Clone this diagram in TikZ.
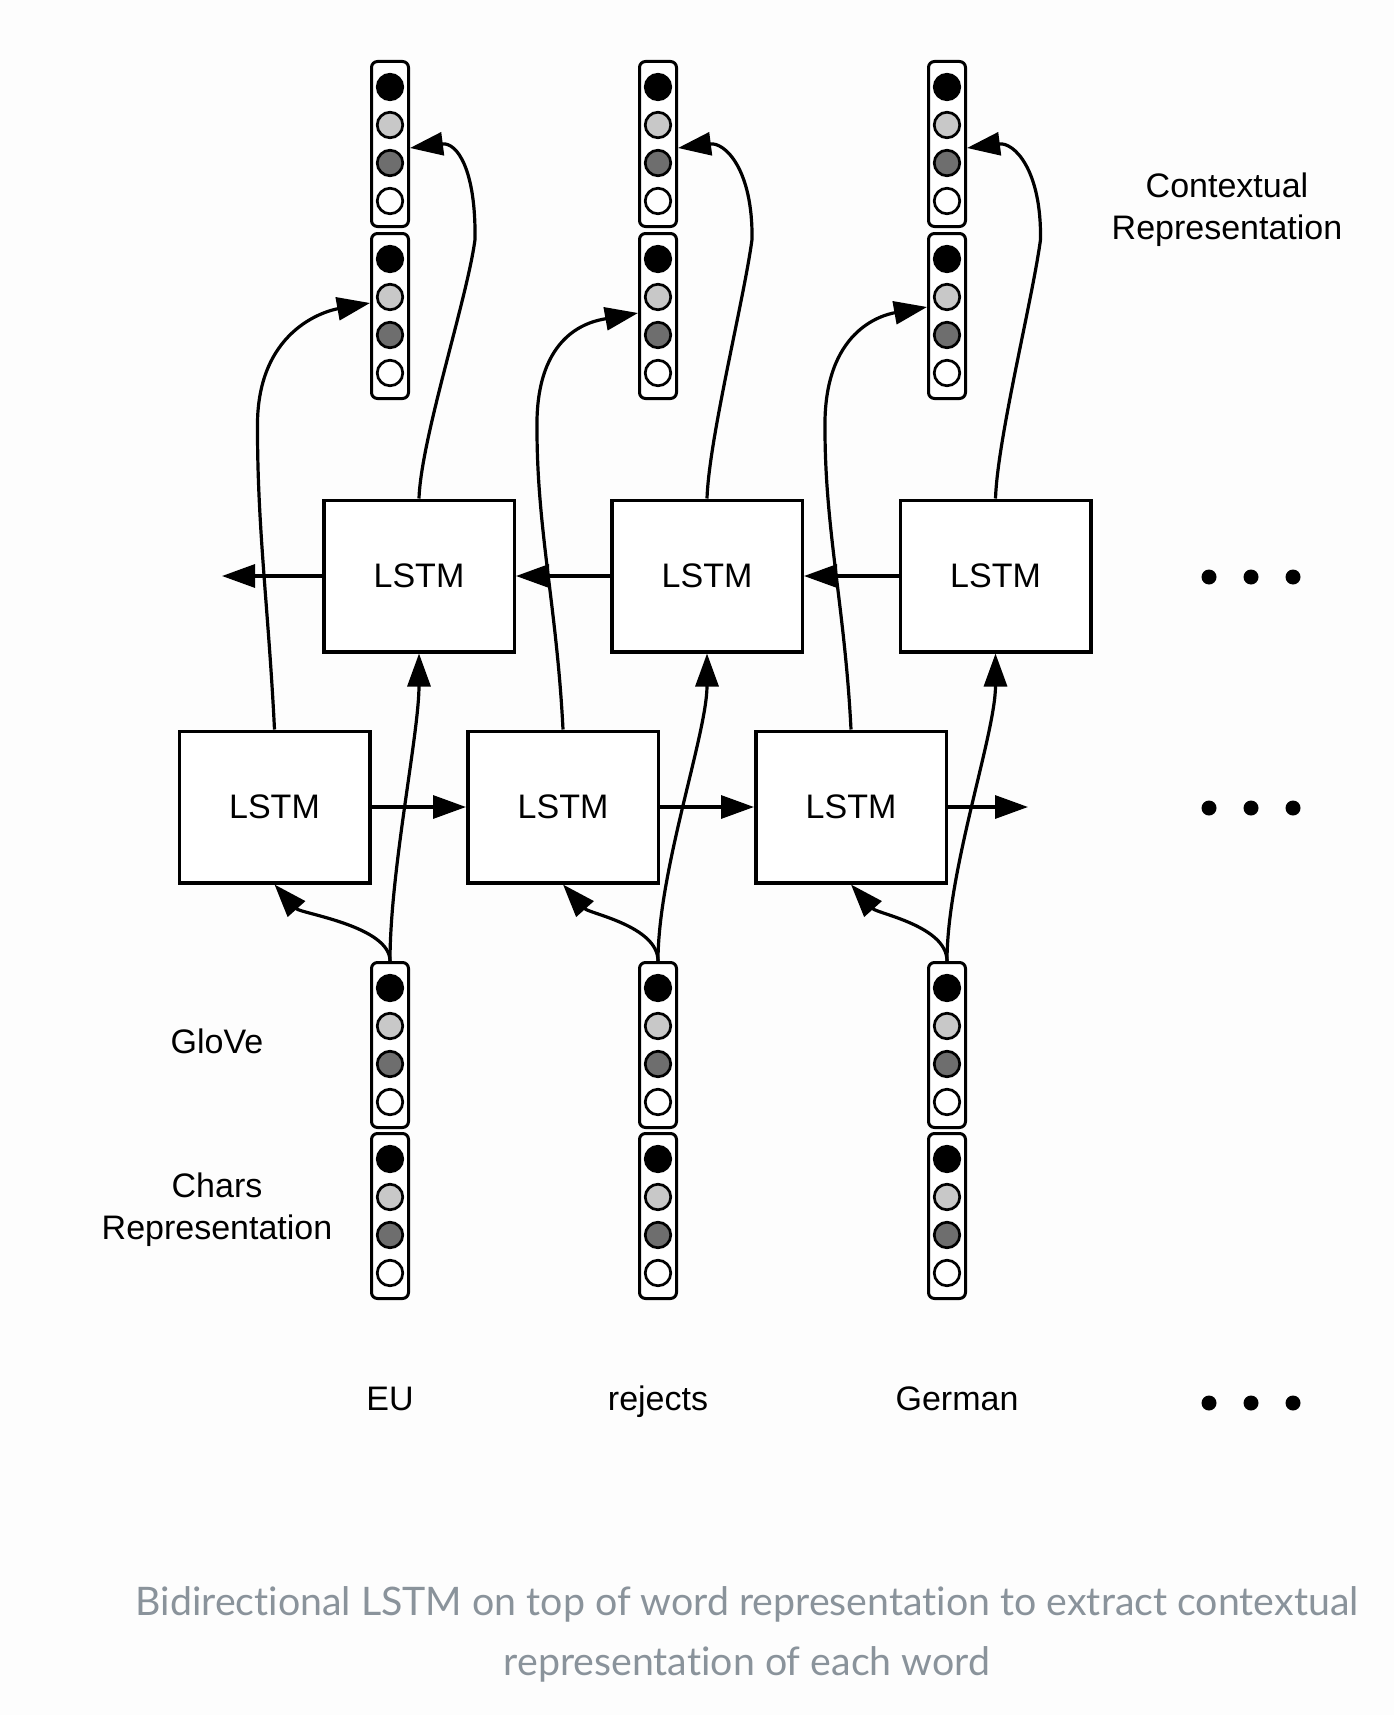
\documentclass[tikz,border=0pt]{standalone}
\usepackage{fontspec}
\setmainfont{Liberation Sans}
\newfontfamily\capfont{Lato}[Ligatures={NoCommon}]
\usetikzlibrary{arrows.meta,calc}
\definecolor{lgray}{HTML}{C8C8C8}
\definecolor{dgray}{HTML}{6E6E6E}
\definecolor{capgray}{HTML}{8A939B}
\definecolor{bg}{HTML}{FDFDFD}
\begin{document}
\begin{tikzpicture}[x=1pt,y=-1pt,
 lstm/.style={draw, line width=3.5pt, minimum width=190.5pt, minimum height=151.5pt, inner sep=0pt, fill=white, font=\fontsize{34}{40}\selectfont},
 vecbox/.style={draw, line width=3pt, rounded corners=6pt, minimum width=37pt, minimum height=165pt, inner sep=0pt, fill=white},
 cell/.style={circle, draw, line width=2.7pt, minimum size=25.5pt, inner sep=0pt},
 arr/.style={line width=3.2pt, -{Triangle[length=33pt,width=23pt]}},
 lbl/.style={font=\fontsize{34}{42}\selectfont, align=center},
 dotn/.style={circle, fill=black, minimum size=15pt, inner sep=0pt}
]
\fill[bg] (0,0) rectangle (1394,1715);
\useasboundingbox (0,0) rectangle (1394,1715);

% word vectors
\foreach \k/\vx in {1/390,2/658,3/947}{
  \foreach \nm/\cy in {t/144, s/316, b/1045, c/1216}{
    \node[vecbox] (\nm\k) at (\vx,\cy) {};
    \foreach \j/\off/\col in {1/-57/black, 2/-19/lgray, 3/19/dgray, 4/57/white}
      \node[cell, fill=\col] (\nm\k-\j) at (\vx,\cy+\off) {};
  }
}

% LSTM cells
\foreach \k/\ux/\lx in {1/419/274.5, 2/707/563, 3/995.5/851}{
  \node[lstm] (u\k) at (\ux,576) {LSTM};
  \node[lstm] (l\k) at (\lx,807) {LSTM};
}

\coordinate (lend) at (1028,807);
\coordinate (uend) at (222,576);

% horizontal connections
\draw[arr] (l1.east) -- (l2.west);
\draw[arr] (l2.east) -- (l3.west);
\draw[arr] (l3.east) -- (lend);
\draw[arr] (u3.west) -- (u2.east);
\draw[arr] (u2.west) -- (u1.east);
\draw[arr] (u1.west) -- (uend);

% vertical connections
\foreach \k/\dl/\dr/\ys in {1/-17/56/13, 2/-26/45/3, 3/-26/45/9}{
  \draw[arr] (b\k.north) .. controls +(0,-35) and +(26,29) .. (l\k.south);
  \draw[arr] (b\k.north) .. controls +(0,-90) and +(0,80) .. (u\k.south);
  \draw[arr] (l\k.north) .. controls +(-6,-120) and +(0,100) .. ($(l\k.north)+(\dl,-300)$)
     .. controls +(-2,-99) and +(-45,8) .. ([yshift=\ys pt]s\k.west);
  \draw[arr] (u\k.north) .. controls +(2,-60) and +(-8,60) .. ($(u\k.north)+(\dr,-259)$)
     .. controls +(1,-70) and +(47,-6) .. ([yshift=-4pt]t\k.east);
}

% ellipsis dots
\foreach \yy in {577,808,1403}
  \foreach \xx in {1209,1251,1293}
    \node[dotn] (dot-\xx-\yy) at (\xx,\yy) {};

% labels
\node[lbl] (ctx) at (1227,210) {Contextual\\Representation};
\node[lbl, anchor=base] (glove) at (217,1053) {GloVe};
\node[lbl] (chars) at (217,1210) {Chars\\Representation};
\node[lbl, anchor=base] (w1) at (390,1410) {EU};
\node[lbl, anchor=base] (w2) at (658,1410) {rejects};
\node[lbl, anchor=base] (w3) at (957,1410) {German};

% caption
\node[font=\capfont\fontsize{39.3}{60}\selectfont, text=capgray, align=center] (cap) at (747,1634)
  {Bidirectional LSTM on top of word representation to extract contextual\\representation of each word};
\end{tikzpicture}
\end{document}
